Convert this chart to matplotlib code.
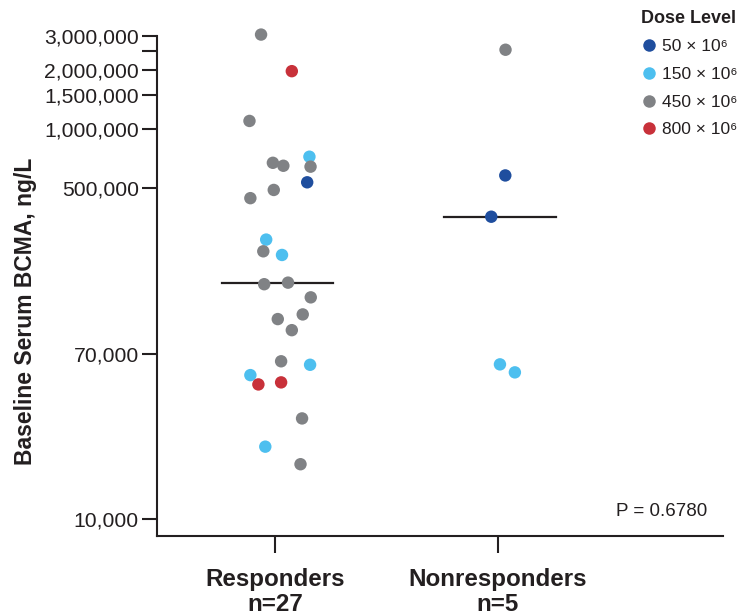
import numpy as np
import matplotlib
matplotlib.use("Agg")
import matplotlib.pyplot as plt
from matplotlib.ticker import FixedLocator, NullFormatter, FixedFormatter
from matplotlib.lines import Line2D

plt.rcParams['font.family'] = ['Liberation Sans', 'DejaVu Sans']

categories = ["Responders\nn=27", "Nonresponders\nn=5"]
dose_labels = ["50 × 10⁶", "150 × 10⁶", "450 × 10⁶", "800 × 10⁶"]
dose_colors = ["#1F4E9E", "#4DBFEF", "#808285", "#C8313A"]

# Responders: value (ng/L), dose index, horizontal jitter
resp_values = [3050000, 1980000, 1100000, 721000, 671000, 648000, 641000, 533000,
               487000, 442000, 271000, 236000, 226000, 160000, 163000, 137000,
               112000, 106000, 93000, 64400, 61800, 54700, 49000, 50200,
               32800, 23500, 19100]
resp_dose = [2, 3, 2, 1, 2, 2, 2, 0,
             2, 2, 1, 2, 1, 2, 2, 2,
             2, 2, 2, 2, 1, 1, 3, 3,
             2, 1, 2]
resp_jitter = [-0.063, 0.075, -0.115, 0.154, -0.010, 0.037, 0.159, 0.144,
               -0.006, -0.111, -0.040, -0.053, 0.031, -0.049, 0.058, 0.160,
               0.124, 0.012, 0.075, 0.027, 0.157, -0.111, -0.075, 0.027,
               0.121, -0.044, 0.114]

nonresp_values = [2550000, 578000, 355000, 62100, 56500]
nonresp_dose = [2, 0, 0, 1, 1]
nonresp_jitter = [0.034, 0.033, -0.030, 0.009, 0.076]

yticks = [10000, 70000, 500000, 1000000, 1500000, 2000000, 3000000]
ytick_labels = ["10,000", "70,000", "500,000", "1,000,000", "1,500,000", "2,000,000", "3,000,000"]
yminor = [2500000]
p_text = "P = 0.6780"

TXT = "#231F20"

fig = plt.figure(figsize=(7.43, 6.16), dpi=100)
ax = fig.add_axes([0.2113, 0.1299, 0.7618, 0.8117])

groups = [(resp_values, resp_dose, resp_jitter), (nonresp_values, nonresp_dose, nonresp_jitter)]
for gi, (vals, doses, jit) in enumerate(groups):
    xs = [gi + j for j in jit]
    cols = [dose_colors[d] for d in doses]
    ax.scatter(xs, vals, s=80, c=cols, edgecolors='none', zorder=3, clip_on=False)
    med = np.median(vals)
    ax.plot([gi - 0.24, gi + 0.26], [med, med], color=TXT, lw=1.6, zorder=2)

ax.set_yscale('log')
ax.set_ylim(8185, 3000000)
ax.set_xlim(-0.53, 2.01)

ax.yaxis.set_major_locator(FixedLocator(yticks))
ax.yaxis.set_major_formatter(FixedFormatter(ytick_labels))
ax.yaxis.set_minor_locator(FixedLocator(yminor))
ax.yaxis.set_minor_formatter(NullFormatter())

ax.set_xticks([0, 1])
ax.set_xticklabels(categories, fontsize=17.4, fontweight='bold', color=TXT, linespacing=1.1)

ax.tick_params(axis='y', which='both', length=11, width=1.5, color=TXT, labelsize=15.2, labelcolor=TXT, pad=2)
ax.tick_params(axis='x', which='both', length=12, width=1.5, color=TXT, pad=11)

for s in ['top', 'right']:
    ax.spines[s].set_visible(False)
for s in ['left', 'bottom']:
    ax.spines[s].set_linewidth(1.5)
    ax.spines[s].set_color(TXT)

ax.set_ylabel("Baseline Serum BCMA, ng/L", fontsize=16.5, fontweight='bold', color=TXT)
ax.yaxis.set_label_coords(-0.212, 0.45)

ax.text(0.972, 0.048, p_text, transform=ax.transAxes, ha='right', va='center', fontsize=13.5, color=TXT)

handles = [Line2D([0], [0], marker='o', linestyle='none', markersize=9,
                  markerfacecolor=c, markeredgecolor='none') for c in dose_colors]
leg = fig.legend(handles, dose_labels, title="Dose Level", loc='upper left',
                 bbox_to_anchor=(0.846, 1.004), frameon=False, fontsize=12.5,
                 handletextpad=0.3, labelspacing=0.72, borderpad=0.2,
                 handlelength=0.9, alignment='left')
leg.get_title().set_fontweight('bold')
leg.get_title().set_fontsize(13)
leg.get_title().set_color(TXT)
for t in leg.get_texts():
    t.set_color(TXT)

fig.savefig("out.png", dpi=100)
